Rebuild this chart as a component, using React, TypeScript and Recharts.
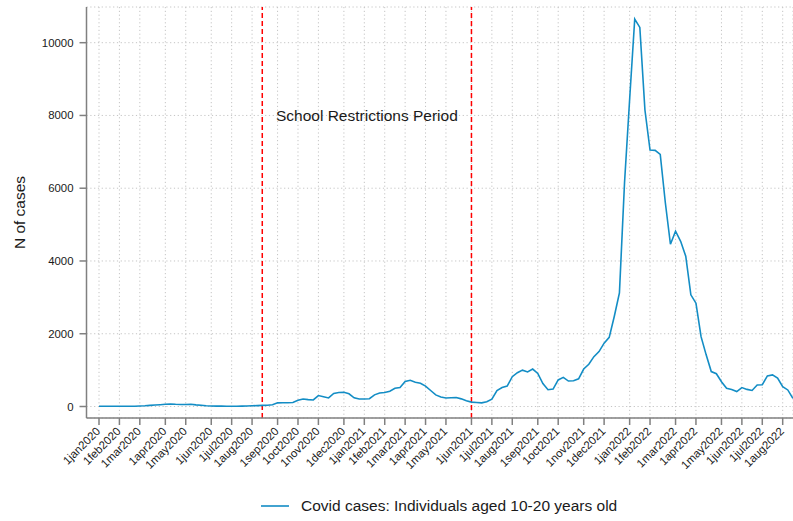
import React from "react";
import {
  LineChart,
  Line,
  XAxis,
  YAxis,
  CartesianGrid,
  ReferenceLine,
  ReferenceArea,
  Legend,
} from "recharts";

// weekly counts, week index 0 = first week of 2020
const cases2020 = [
  5, 5, 5, 5, 5, 5, 5, 8, 15, 20, 30, 40, 50, 60, 70, 60, 55, 55, 60, 45, 35,
  20, 15, 10, 10, 8, 8, 8, 10, 15, 20, 25, 30, 35, 50, 100, 105, 105, 110, 170,
  205, 190, 180, 300, 270, 235, 360, 385, 390, 350, 240, 205,
];
const cases2021 = [
  205, 215, 320, 370, 385, 420, 500, 520, 685, 720, 665, 640, 560, 440, 320,
  260, 235, 240, 245, 210, 160, 120, 110, 100, 130, 200, 440, 520, 560, 820,
  930, 1000, 950, 1030, 910, 630, 460, 480, 730, 800, 700, 710, 760, 1030,
  1160, 1370, 1510, 1740, 1900, 2480, 3120, 6150,
];
const cases2022 = [
  8440, 10650, 10420, 8150, 7050, 7040, 6930, 5600, 4460, 4820, 4540, 4130,
  3070, 2840, 1920, 1420, 960, 900, 680, 500, 470, 410, 520, 470, 440, 590,
  600, 840, 870, 780, 545, 455, 225,
];

const tickWeeks = [
  0, 4, 8, 13, 17, 22, 26, 30, 35, 39, 43, 48, 52, 56, 60, 64, 68, 73, 77, 81,
  86, 90, 95, 99, 104, 108, 113, 117, 122, 126, 130, 134,
];
const tickLabels = [
  "1jan2020", "1feb2020", "1mar2020", "1apr2020", "1may2020", "1jun2020",
  "1jul2020", "1aug2020", "1sep2020", "1oct2020", "1nov2020", "1dec2020",
  "1jan2021", "1feb2021", "1mar2021", "1apr2021", "1may2021", "1jun2021",
  "1jul2021", "1aug2021", "1sep2021", "1oct2021", "1nov2021", "1dec2021",
  "1jan2022", "1feb2022", "1mar2022", "1apr2022", "1may2022", "1jun2022",
  "1jul2022", "1aug2022",
];
const yTicks = [0, 2000, 4000, 6000, 8000, 10000];

const restrictionStart = 32;
const restrictionEnd = 73;

const data = [...cases2020, ...cases2021, ...cases2022].map((v, i) => ({
  week: i,
  cases: v,
}));

const FONT = "'Liberation Sans', Arial, Helvetica, sans-serif";
const TEXT = "#1a1a1a";
const AXIS = "#808080";
const BLUE = "#138dc5";

const XTick = ({ x, y, payload }: any) => {
  const idx = tickWeeks.indexOf(payload.value);
  const ax = x + 2;
  const ay = y + 7;
  return (
    <text
      x={ax}
      y={ay}
      transform={`rotate(-45, ${ax}, ${ay})`}
      textAnchor="end"
      fontSize={11.4}
      fontFamily={FONT}
      fill={TEXT}
    >
      {tickLabels[idx]}
    </text>
  );
};

const YTitle = ({ viewBox }: any) => {
  const cx = 19;
  const cy = viewBox.y + viewBox.height / 2;
  return (
    <text
      x={cx}
      y={cy}
      transform={`rotate(-90, ${cx}, ${cy})`}
      textAnchor="middle"
      dominantBaseline="central"
      fontSize={15.5}
      fontFamily={FONT}
      fill={TEXT}
    >
      N of cases
    </text>
  );
};

const LegendBox = () => (
  <div
    style={{
      height: 30,
      position: "relative",
      fontFamily: FONT,
      fontSize: 15.5,
      color: TEXT,
    }}
  >
    <svg
      width={30}
      height={4}
      style={{ position: "absolute", left: 261, top: 13 }}
    >
      <line x1={0} y1={2} x2={28} y2={2} stroke={BLUE} strokeWidth={1.6} />
    </svg>
    <span
      style={{ position: "absolute", left: 301, top: 6, whiteSpace: "nowrap" }}
    >
      Covid cases: Individuals aged 10-20 years old
    </span>
  </div>
);

export default function App() {
  return (
    <div
      style={{
        position: "absolute",
        left: 0,
        top: 0,
        width: 793,
        height: 521,
        overflow: "hidden",
        background: "#ffffff",
      }}
    >
      <LineChart
        width={793}
        height={521}
        data={data}
        margin={{ top: 7, right: 0, left: 0, bottom: 0 }}
      >
        <CartesianGrid
          stroke="#c4c4c4"
          strokeDasharray="1.2 2.6"
          strokeWidth={1}
        />
        <XAxis
          dataKey="week"
          type="number"
          domain={[-2.45, 136.02]}
          allowDataOverflow
          ticks={tickWeeks}
          interval={0}
          height={73}
          tick={<XTick />}
          tickSize={7}
          tickMargin={0}
          stroke={AXIS}
          strokeWidth={1.5}
        />
        <YAxis
          type="number"
          domain={[-316, 10981]}
          allowDataOverflow
          ticks={yTicks}
          width={86.5}
          tickSize={7}
          tickMargin={6}
          stroke={AXIS}
          strokeWidth={1.5}
          tick={{ fontSize: 11.4, fontFamily: FONT, fill: TEXT }}
          label={{ content: <YTitle /> }}
        />
        <ReferenceArea
          x1={restrictionStart}
          x2={restrictionEnd}
          y1={7600}
          y2={8400}
          fill="none"
          stroke="none"
          label={{
            value: "School Restrictions Period",
            position: "center",
            fontSize: 15.5,
            fontFamily: FONT,
            fill: TEXT,
          }}
        />
        <ReferenceLine
          x={restrictionStart}
          stroke="#ff0000"
          strokeDasharray="5 3"
          strokeWidth={1.5}
        />
        <ReferenceLine
          x={restrictionEnd}
          stroke="#ff0000"
          strokeDasharray="5 3"
          strokeWidth={1.5}
        />
        <Line
          type="linear"
          dataKey="cases"
          stroke={BLUE}
          strokeWidth={1.6}
          dot={false}
          isAnimationActive={false}
        />
        <Legend
          verticalAlign="bottom"
          height={30}
          wrapperStyle={{ left: 0, width: 793 }}
          content={<LegendBox />}
        />
      </LineChart>
    </div>
  );
}
